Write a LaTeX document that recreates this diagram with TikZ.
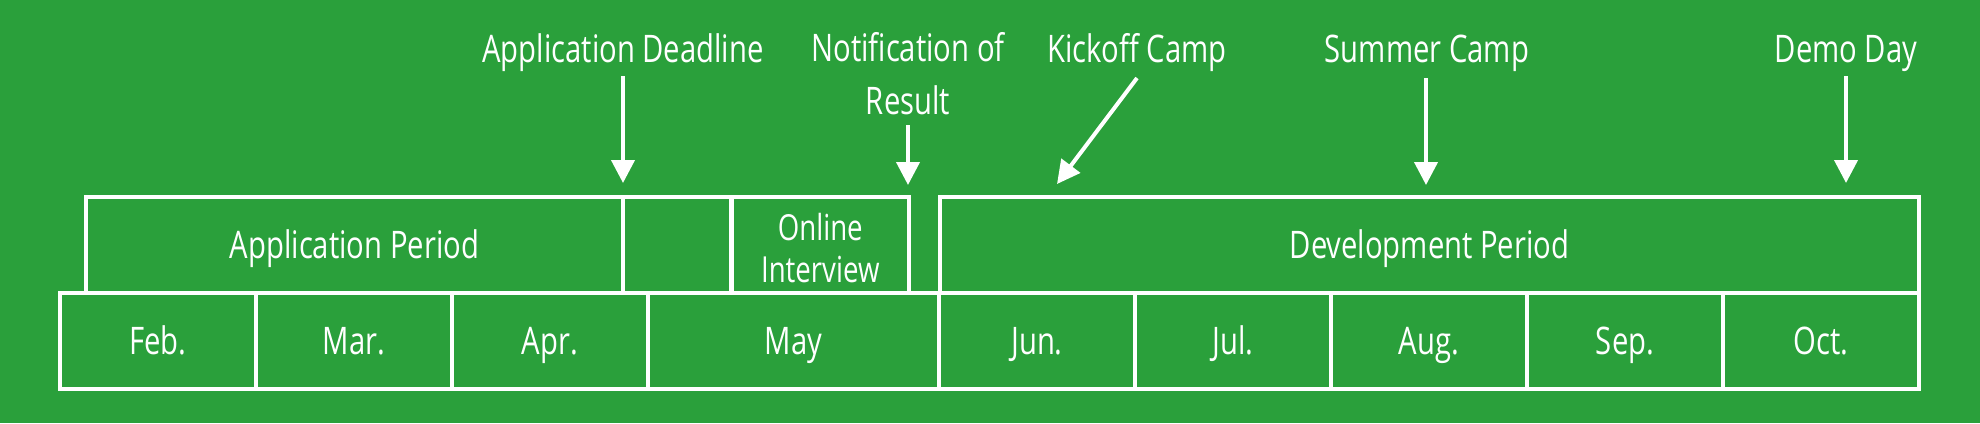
\documentclass[tikz,border=0pt]{standalone}
\usepackage{fontspec}
\setmainfont[FakeStretch=0.77]{Open Sans}
\usetikzlibrary{arrows.meta,calc}
\definecolor{bggreen}{RGB}{42,160,59}
\begin{document}
\begin{tikzpicture}[x=0.01cm,y=-0.01cm,
  cellbox/.style={draw=white, line width=0.04cm, text=white, inner sep=0pt},
  cell/.style={cellbox, text height=0.27cm, text depth=0pt, font=\fontsize{10.8pt}{14.8pt}\selectfont},
  month/.style={cell, minimum height=0.955cm},
  period/.style={cell, minimum height=0.96cm},
  lbl/.style={text=white, inner sep=0pt, font=\fontsize{10.8pt}{14.8pt}\selectfont, align=center, anchor=base},
  arr/.style={draw=white, line width=0.04cm, -{Triangle[length=0.23cm,width=0.23cm]}}]
\fill[bggreen] (0,0) rectangle (1980,423);
\useasboundingbox (0,0) rectangle (1980,423);
% month row
\node[month, minimum width=1.96cm] (feb) at (158,340.75) {Feb.};
\node[month, minimum width=1.96cm] (mar) at (354,340.75) {Mar.};
\node[month, minimum width=1.96cm] (apr) at (550,340.75) {Apr.};
\node[month, minimum width=2.91cm] (may) at (793.5,340.75) {May};
\node[month, minimum width=1.96cm] (jun) at (1037,340.75) {Jun.};
\node[month, minimum width=1.96cm] (jul) at (1233,340.75) {Jul.};
\node[month, minimum width=1.96cm] (aug) at (1429,340.75) {Aug.};
\node[month, minimum width=1.96cm] (sep) at (1625,340.75) {Sep.};
\node[month, minimum width=1.96cm] (oct) at (1821,340.75) {Oct.};
% period row
\node[period, minimum width=5.37cm] (appper) at (354.5,245) {Application Period};
\node[period, minimum width=1.085cm] (blank) at (677.25,245) {};
\node[cellbox, minimum width=1.775cm, minimum height=0.96cm] (online) at (820.25,245) {};
\node[text=white, inner sep=0pt, align=center, font=\fontsize{10.2pt}{11.7pt}\selectfont] (onlinetxt) at (820.25,248) {Online\\Interview};
\node[period, minimum width=9.79cm] (devper) at (1429.5,245) {Development Period};
% event labels
\node[lbl] (ldead) at (623,62) {Application Deadline};
\node[lbl] (lnotif) at (908,114) {Notification of\\Result};
\node[lbl] (lkick) at (1137,62) {Kickoff Camp};
\node[lbl] (lsummer) at (1427,62) {Summer Camp};
\node[lbl] (ldemo) at (1846,62) {Demo Day};
% arrow tips
\coordinate (tdead) at (623,183);
\coordinate (tnotif) at (908,185);
\coordinate (tkick) at (1057,184);
\coordinate (tsummer) at (1426,185);
\coordinate (tdemo) at (1846,183);
\draw[arr] ($(ldead.base)+(0,14)$) -- (tdead);
\draw[arr] ($(lnotif.base)+(0,11)$) -- (tnotif);
\draw[arr] ($(lkick.base)+(0,16)$) -- (tkick);
\draw[arr] ($(lsummer.base)+(-1,16)$) -- (tsummer);
\draw[arr] ($(ldemo.base)+(0,14)$) -- (tdemo);
\end{tikzpicture}
\end{document}
